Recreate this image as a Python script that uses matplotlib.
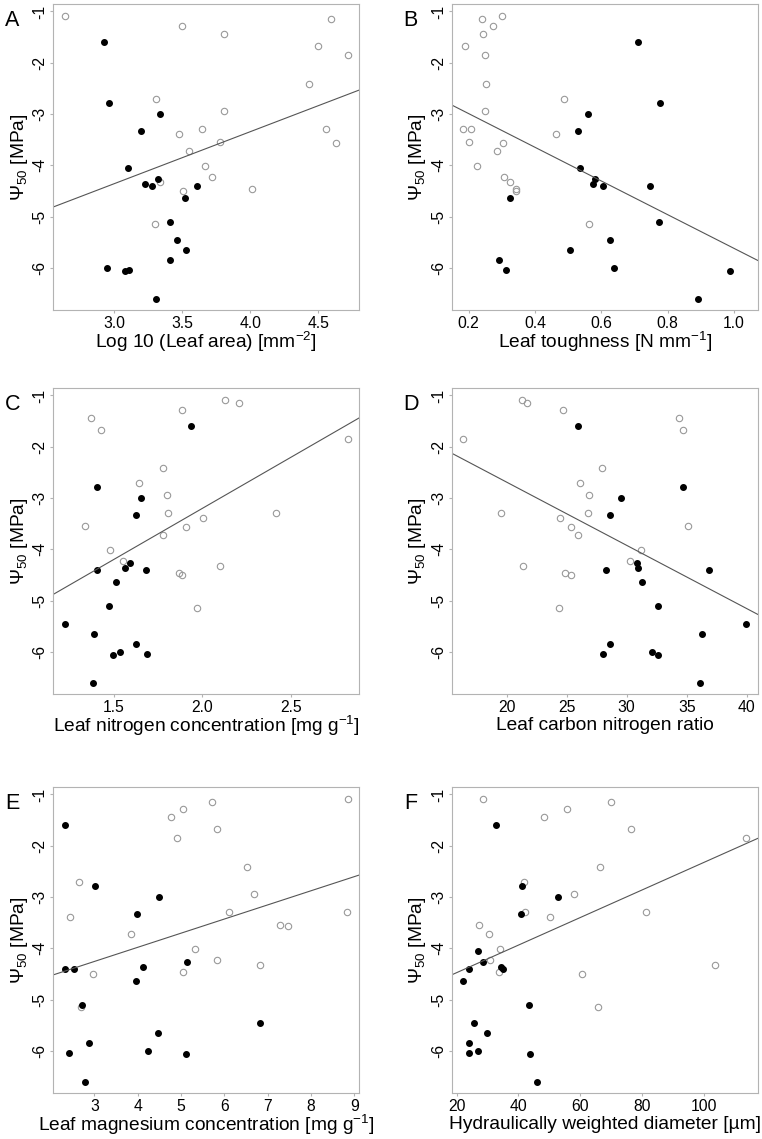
import numpy as np
import matplotlib
matplotlib.use('Agg')
import matplotlib.pyplot as plt

plt.rcParams['font.family'] = ['Liberation Sans', 'DejaVu Sans']
plt.rcParams['mathtext.fontset'] = 'custom'
plt.rcParams['mathtext.rm'] = 'Liberation Sans'
plt.rcParams['mathtext.it'] = 'Liberation Sans'
plt.rcParams['axes.unicode_minus'] = False

nan = np.nan

# Psi50 of the species (open = grey circles, filled = black dots)
y_open = [-1.08, -1.14, -1.28, -1.43, -1.67, -1.85, -2.42, -2.70, -2.94, -3.29, -3.30,
          -3.39, -3.54, -3.57, -3.72, -4.01, -4.23, -4.32, -4.47, -4.51, -5.15]
y_filled = [-1.59, -2.79, -3.00, -3.33, -4.06, -4.26, -4.37, -4.40, -4.41, -4.64, -5.10,
            -5.45, -5.66, -5.84, -6.01, -6.05, -6.07, -6.61]

# A: log10 leaf area
a_open = [2.64, 4.593, 3.497, 3.81, 4.50, 4.72, 4.43, 3.31, 3.81, 4.56, 3.65,
          3.48, 3.78, 4.63, 3.55, 3.67, 3.72, 3.34, 4.01, 3.51, 3.30]
a_filled = [2.93, 2.963, 3.335, 3.20, 3.10, 3.32, 3.23, 3.28, 3.61, 3.52, 3.41,
            3.46, 3.53, 3.41, 2.95, 3.11, 3.08, 3.31]
# B: leaf toughness
b_open = [0.300, 0.240, 0.275, 0.244, 0.189, 0.248, 0.252, 0.489, 0.248, 0.182, 0.206,
          0.464, 0.200, 0.304, 0.286, 0.226, 0.307, 0.324, 0.342, 0.344, 0.564]
b_filled = [0.710, 0.776, 0.560, 0.529, 0.536, 0.582, 0.575, 0.747, 0.605, 0.326, 0.775,
            0.627, 0.507, 0.293, 0.638, 0.312, 0.988, 0.891]
# C: leaf nitrogen
c_open = [2.129, 2.204, 1.884, 1.372, 1.427, 2.822, 1.777, 1.639, 1.799, 1.805, 2.413,
          2.001, 1.334, 1.907, 1.777, 1.479, 1.549, 2.099, 1.869, 1.886, 1.971]
c_filled = [1.935, 1.406, 1.653, 1.622, nan, 1.589, 1.562, 1.402, 1.681, 1.513, 1.470,
            1.223, 1.385, 1.622, 1.534, 1.685, 1.496, 1.381]
# D: C/N ratio
d_open = [21.25, 21.69, 24.72, 34.36, 34.72, 16.33, 27.94, 26.11, 26.89, 26.81, 19.50,
          24.44, 35.11, 25.33, 25.94, 31.22, 30.31, 21.36, 24.89, 25.33, 24.39]
d_filled = [25.92, 34.67, 29.53, 28.61, nan, 30.83, 30.94, 36.86, 28.25, 31.25, 32.58,
            39.94, 36.28, 28.61, 32.14, 28.03, 32.64, 36.08]
# E: leaf magnesium
e_open = [8.85, 5.72, 5.05, 4.77, 5.82, 4.91, 6.52, 2.64, 6.69, 6.10, 8.82,
          2.43, 7.28, 7.46, 3.85, 5.32, 5.83, 6.82, 5.04, 2.98, 2.69]
e_filled = [2.32, 3.02, 4.50, 3.98, nan, 5.15, 4.13, 2.32, 2.54, 3.97, 2.71,
            6.83, 4.48, 2.87, 4.25, 2.41, 5.12, 2.79]
# F: hydraulically weighted diameter
f_open = [28.42, 70.09, 55.84, 48.29, 76.36, 113.71, 66.42, 41.70, 58.00, 42.13, 81.43,
          50.34, 27.23, nan, 30.58, 34.04, 30.80, 103.78, 33.71, 60.59, 65.67]
f_filled = [32.74, 41.05, 52.71, 40.94, 26.91, 28.42, 34.36, 35.11, 24.00, 21.94, 43.43,
            25.51, 29.82, 24.00, 27.02, 24.00, 43.86, 45.91]

panel_letters = ['A', 'B', 'C', 'D', 'E', 'F']
x_labels = ['Log 10 (Leaf area) [mm$^{-2}$]',
            'Leaf toughness [N mm$^{-1}$]',
            'Leaf nitrogen concentration [mg g$^{-1}$]',
            'Leaf carbon nitrogen ratio',
            'Leaf magnesium concentration [mg g$^{-1}$]',
            'Hydraulically weighted diameter [µm]']
x_ticks = [[3.0, 3.5, 4.0, 4.5],
           [0.2, 0.4, 0.6, 0.8, 1.0],
           [1.5, 2.0, 2.5],
           [20, 25, 30, 35, 40],
           [3, 4, 5, 6, 7, 8, 9],
           [20, 40, 60, 80, 100]]
x_tick_labels = [['3.0', '3.5', '4.0', '4.5'],
                 ['0.2', '0.4', '0.6', '0.8', '1.0'],
                 ['1.5', '2.0', '2.5'],
                 ['20', '25', '30', '35', '40'],
                 ['3', '4', '5', '6', '7', '8', '9'],
                 ['20', '40', '60', '80', '100']]
x_limits = [(2.555, 4.801), (0.149, 1.072), (1.157, 2.886),
            (15.42, 40.92), (2.054, 9.115), (18.38, 117.49)]
# regression lines: slope, intercept
slopes = [1.016, -3.285, 1.992, -0.1233, 0.2759, 0.02686]
intercepts = [-7.410, -2.335, -7.185, -0.225, -5.086, -5.013]
y_ticks = [-1, -2, -3, -4, -5, -6]
y_tick_labels = ['-1', '-2', '-3', '-4', '-5', '-6']
y_limits = (-6.83, -0.86)

x_open_all = [a_open, b_open, c_open, d_open, e_open, f_open]
x_filled_all = [a_filled, b_filled, c_filled, d_filled, e_filled, f_filled]

W, H = 762, 1139
fig = plt.figure(figsize=(W / 100, H / 100), dpi=100)

lefts = [53.3, 451.7]
tops = [4.3, 388.3, 787.3]
box = 306

axis_grey = '#b3b3b3'

for i in range(6):
    row, col = divmod(i, 2)
    l = lefts[col]
    t = tops[row]
    ax = fig.add_axes([l / W, 1 - (t + box) / H, box / W, box / H])

    ax.plot(x_open_all[i], y_open, 'o', mfc='none', mec='#999999', mew=0.8, ms=4.6,
            linestyle='none')
    ax.plot(x_filled_all[i], y_filled, 'o', mfc='black', mec='black', ms=4.0,
            linestyle='none')

    xl = np.array(x_limits[i])
    ax.plot(xl, slopes[i] * xl + intercepts[i], color='#555555', lw=0.8)

    ax.set_xlim(*x_limits[i])
    ax.set_ylim(*y_limits)
    ax.set_xticks(x_ticks[i])
    ax.set_xticklabels(x_tick_labels[i])
    ax.set_yticks(y_ticks)
    ax.set_yticklabels(y_tick_labels, rotation=90, va='center')

    for s in ax.spines.values():
        s.set_color(axis_grey)
        s.set_linewidth(0.8)
    ax.tick_params(colors=axis_grey, labelcolor='black', length=2.5, width=0.8,
                   labelsize=11.3, pad=1.5)

    ax.set_xlabel(x_labels[i], fontsize=13.8, va='center')
    ax.xaxis.set_label_coords(0.5, -31.5 / box)
    ax.set_ylabel('Ψ$_{50}$ [MPa]', fontsize=13.8, va='center')
    ax.yaxis.set_label_coords(-34 / box, 0.5)

    fig.text((l - 41) / W, 1 - (t + 16.5) / H, panel_letters[i], fontsize=15.5,
             ha='center', va='center')

fig.savefig('out.png', dpi=100)
